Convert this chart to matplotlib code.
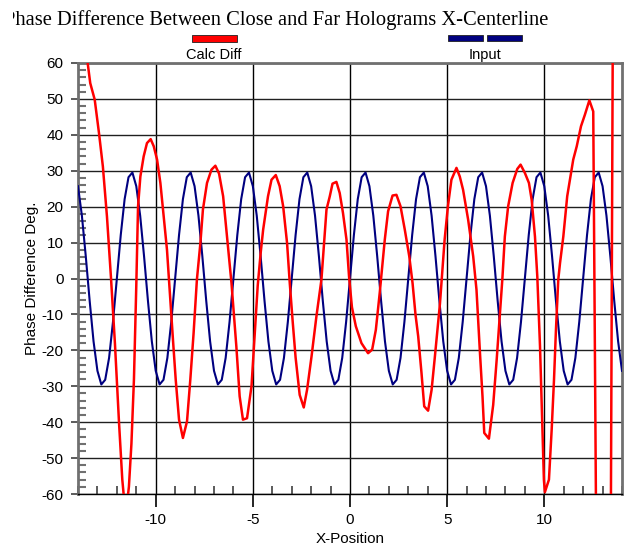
import matplotlib
matplotlib.use("Agg")
import matplotlib.pyplot as plt
from matplotlib.transforms import Bbox, TransformedBbox
from matplotlib.ticker import MultipleLocator, FixedLocator

# ---------------- data ----------------
input_x = [round(-14.0 + 0.2 * i, 2) for i in range(141)]
input_y = [
    25.7, 17.5, 6.2, -6.2, -17.5, -25.7, -29.5, -28.2, -22.1, -12.1, 0.0, 12.1, 22.1, 28.2, 29.5,
    25.7, 17.5, 6.2, -6.2, -17.5, -25.7, -29.5, -28.2, -22.1, -12.1, 0.0, 12.1, 22.1, 28.2, 29.5,
    25.7, 17.5, 6.2, -6.2, -17.5, -25.7, -29.5, -28.2, -22.1, -12.1, 0.0, 12.1, 22.1, 28.2, 29.5,
    25.7, 17.5, 6.2, -6.2, -17.5, -25.7, -29.5, -28.2, -22.1, -12.1, 0.0, 12.1, 22.1, 28.2, 29.5,
    25.7, 17.5, 6.2, -6.2, -17.5, -25.7, -29.5, -28.2, -22.1, -12.1, 0.0, 12.1, 22.1, 28.2, 29.5,
    25.7, 17.5, 6.2, -6.2, -17.5, -25.7, -29.5, -28.2, -22.1, -12.1, 0.0, 12.1, 22.1, 28.2, 29.5,
    25.7, 17.5, 6.2, -6.2, -17.5, -25.7, -29.5, -28.2, -22.1, -12.1, 0.0, 12.1, 22.1, 28.2, 29.5,
    25.7, 17.5, 6.2, -6.2, -17.5, -25.7, -29.5, -28.2, -22.1, -12.1, 0.0, 12.1, 22.1, 28.2, 29.5,
    25.7, 17.5, 6.2, -6.2, -17.5, -25.7, -29.5, -28.2, -22.1, -12.1, 0.0, 12.1, 22.1, 28.2, 29.5,
    25.7, 17.5, 6.2, -6.2, -17.5, -25.7,
]

calc_x = [
    -14.0, -13.55, -13.37, -13.14, -12.92, -12.72, -12.51, -12.3, -12.1, -11.89,
    -11.72, -11.55, -11.38, -11.25, -11.12, -11.0, -10.91, -10.79, -10.62, -10.45,
    -10.26, -10.1, -9.93, -9.76, -9.59, -9.42, -9.25, -9.1, -8.97, -8.8,
    -8.6, -8.39, -8.22, -8.05, -7.88, -7.7, -7.57, -7.36, -7.13, -6.93,
    -6.74, -6.53, -6.33, -6.1, -5.85, -5.68, -5.51, -5.3, -5.07, -4.9,
    -4.75, -4.6, -4.47, -4.22, -4.04, -3.82, -3.62, -3.44, -3.24, -3.1,
    -2.95, -2.8, -2.59, -2.38, -2.21, -1.98, -1.73, -1.47, -1.21, -1.04,
    -0.9, -0.7, -0.53, -0.36, -0.18, -0.05, 0.1, 0.3, 0.59, 0.93,
    1.14, 1.33, 1.53, 1.79, 1.96, 2.19, 2.39, 2.6, 2.82, 3.05,
    3.22, 3.37, 3.51, 3.68, 3.82, 4.02, 4.2, 4.37, 4.63, 4.87,
    5.04, 5.22, 5.48, 5.65, 5.82, 6.08, 6.34, 6.51, 6.69, 6.82,
    6.91, 7.15, 7.37, 7.55, 7.72, 7.84, 7.97, 8.14, 8.37, 8.61,
    8.78, 9.0, 9.21, 9.35, 9.52, 9.64, 9.78, 9.88, 9.98, 10.03,
    10.24, 10.38, 10.5, 10.6, 10.72, 10.81, 10.98, 11.18, 11.49, 11.67,
    11.89, 12.09, 12.32, 12.52, 12.72, 13.12, 13.32, 13.72, 14.0,
]
calc_y = [
    92, 62, 54.4, 49.8, 40.5, 31.2, 17.3, 0, -18, -40,
    -56, -66, -58, -46, -28, -2, 20, 28.4, 34, 37.7,
    38.8, 36.8, 33.1, 26.6, 17.3, 8, -6, -18, -28.2, -39.3,
    -44.4, -39.8, -28.2, -15.2, -0.3, 9.9, 19.2, 26.6, 30.3, 31.4,
    29.2, 22.9, 11.7, -1.3, -18.9, -32.8, -39.3, -38.9, -30, -15,
    -2, 7, 13.6, 22.9, 27.5, 28.8, 25.7, 20.1, 9.9, -1.3,
    -12, -22, -32.4, -35.9, -31, -21.7, -10.6, -0.3, 19.2, 22.9,
    26.4, 26.9, 23.8, 18.2, 10.8, 0.6, -8, -13.3, -18, -20.8,
    -19.8, -14.3, -4, 10.8, 18.7, 23.1, 23.3, 20.1, 13.6, 6.2,
    -1.3, -10, -16.1, -26.3, -35.6, -36.8, -31, -21.7, -7, 10.8,
    20.1, 27.5, 30.8, 28.4, 24.7, 16.4, 6.2, -3.1, -20.8, -32.8,
    -43, -44.6, -35.2, -22.6, -9.6, -0.3, 11.7, 20.1, 26.6, 30.5,
    31.7, 29.4, 26.6, 21.9, 11.7, 0.6, -18.9, -37.5, -56, -59.5,
    -56, -42.1, -28.2, -14.3, -0.3, 4.3, 11.7, 22.9, 33.1, 36.8,
    42.4, 45.6, 49.6, 46.5, -110, -220, -210, 330, 350,
]

title_text = "Phase Difference Between Close and Far Holograms X-Centerline"
series_names = ["Calc Diff", "Input"]
x_label = "X-Position"
y_label = "Phase Difference Deg."
x_major = [-10, -5, 0, 5, 10]
y_major = [-60, -50, -40, -30, -20, -10, 0, 10, 20, 30, 40, 50, 60]

# ---------------- figure ----------------
W, H = 629, 548
fig = plt.figure(figsize=(W / 100, H / 100), dpi=100)
fig.patch.set_facecolor("white")
sans = "Liberation Sans"
serif = "Liberation Serif"

L, R, T, B = 78, 622, 63, 494
ax = fig.add_axes([L / W, 1 - B / H, (R - L) / W, (B - T) / H])
ax.set_xlim(-14, 14)
ax.set_ylim(-60, 60)

# grid
for v in x_major:
    ax.axvline(v, color="black", lw=1.0, zorder=1)
for v in y_major:
    ax.axhline(v, color="#202020", lw=1.0, zorder=1)

ax.plot(input_x, input_y, color="#000080", lw=1.5, zorder=3)
ax.plot(calc_x, calc_y, color="#ff0000", lw=1.8, zorder=4)

for s in ["left", "top", "right"]:
    ax.spines[s].set_color("#707070")
    ax.spines[s].set_linewidth(2.0)
ax.spines["bottom"].set_color("black")
ax.spines["bottom"].set_linewidth(1.0)

ax.xaxis.set_major_locator(FixedLocator(x_major))
ax.yaxis.set_major_locator(FixedLocator(y_major))
ax.xaxis.set_minor_locator(MultipleLocator(1))
ax.yaxis.set_minor_locator(MultipleLocator(2))
ax.tick_params(axis="x", which="major", direction="out", length=9, width=1.2,
               color="black", pad=5, labelsize=11)
ax.tick_params(axis="x", which="minor", direction="in", length=6, width=1.2,
               color="#404040")
ax.tick_params(axis="y", which="major", direction="out", length=5, width=1.2,
               color="#404040", pad=5.5, labelsize=11)
ax.tick_params(axis="y", which="minor", direction="in", length=6, width=1.5,
               color="#707070")
ax.set_xticklabels([str(v) for v in x_major])
ax.set_yticklabels([str(v) for v in y_major])
for lab in ax.get_xticklabels() + ax.get_yticklabels():
    lab.set_fontfamily(sans)

ax.set_xlabel(x_label, fontfamily=sans, fontsize=11, labelpad=3)
ax.set_ylabel(y_label, fontfamily=sans, fontsize=11, labelpad=2)

# title, clipped on the left like the original
t = fig.text(4 / W, 1 - 25 / H, title_text, fontfamily=serif, fontsize=14.8,
             ha="left", va="baseline")
t.set_clip_box(TransformedBbox(Bbox([[13 / W, 0], [1, 1]]), fig.transFigure))
t.set_clip_on(True)

# legend-like header
def fig_rect(x0, y0, x1, y1, color):
    fig.patches.append(plt.Rectangle((x0 / W, 1 - y1 / H), (x1 - x0) / W, (y1 - y0) / H,
                                     transform=fig.transFigure, facecolor=color,
                                     edgecolor="#202020", lw=0.6))

fig_rect(192, 35, 237, 42, "#ff0000")
fig.text(214 / W, 1 - 55 / H, series_names[0], fontfamily=sans, fontsize=10.5,
         ha="center", va="center")
fig_rect(448, 35, 483, 41, "#000080")
fig_rect(487, 35, 522, 41, "#000080")
fig.text(485 / W, 1 - 55 / H, series_names[1], fontfamily=sans, fontsize=10.5,
         ha="center", va="center")

fig.savefig("out.png", dpi=100)
